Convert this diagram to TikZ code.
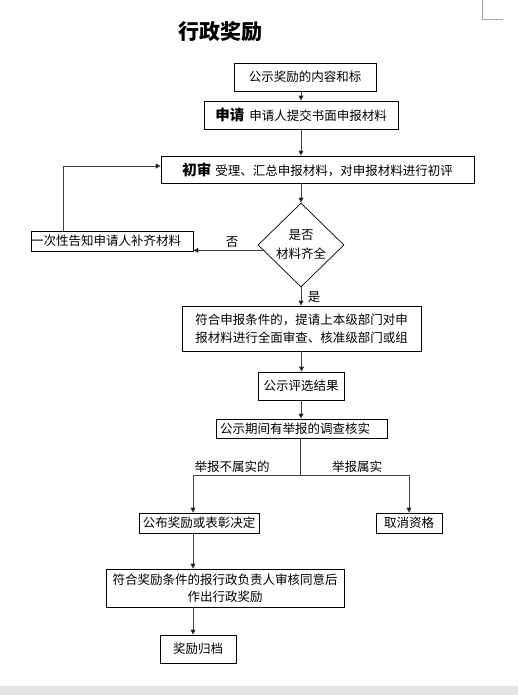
\documentclass[tikz,border=0pt]{standalone}
\usepackage{fontspec}
\setmainfont{Noto Sans CJK SC}
\usetikzlibrary{arrows.meta,shapes.geometric}
\begin{document}
\begin{tikzpicture}[x=1pt,y=-1pt,
  box/.style={draw=black, line width=0.7pt, inner sep=0pt, align=center, font=\fontsize{12.5}{18}\selectfont},
  arr/.style={draw=black!75, line width=0.8pt, -{Triangle[length=5pt,width=5pt,fill=black]}},
  ln/.style={draw=black!75, line width=0.8pt},
  lbl/.style={font=\fontsize{12.5}{14}\selectfont, inner sep=0pt}]
\useasboundingbox (0,0) rectangle (518,695);
\fill[gray!22] (0,686) rectangle (518,695);
\draw[gray!70, line width=0.6pt] (482,0) -- (482,19) -- (503,19);

\node[inner sep=0pt, font=\fontsize{21}{23}\selectfont\bfseries] (title) at (220,32) {行政奖励};

\node[box, minimum width=142, minimum height=28] (b1) at (305,77) {公示奖励的内容和标};
\node[box, minimum width=194, minimum height=28] (b2) at (301,115) {{\fontsize{14.5}{16}\selectfont\bfseries 申请}\hspace{5pt}申请人提交书面申报材料};
\node[box, minimum width=313, minimum height=27] (b3) at (317.5,169.5) {{\fontsize{14.5}{16}\selectfont\bfseries 初审}\hspace{4pt}受理、汇总申报材料，对申报材料进行初评};
\node[draw=black, line width=0.7pt, diamond, aspect=1.02, minimum width=86, minimum height=84, inner sep=0pt, align=center, font=\fontsize{12.5}{19}\selectfont] (d) at (301,245) {是否\\材料齐全};
\node[box, minimum width=162, minimum height=20, text width=162, align=left] (lb) at (112,241) {一次性告知申请人补齐材料};
\node[box, minimum width=239, minimum height=45] (b4) at (301.5,328.5) {符合申报条件的，提请上本级部门对申\\报材料进行全面审查、核准级部门或组};
\node[box, minimum width=86, minimum height=28] (b5) at (301,386) {\raisebox{-4pt}{公示评选结果}};
\node[box, minimum width=171, minimum height=19, text width=163, align=left] (b6) at (301.5,428.5) {公示期间有举报的调查核实};
\node[box, minimum width=120, minimum height=20] (b7) at (199,523) {公布奖励或表彰决定};
\node[box, minimum width=66, minimum height=20] (b8) at (409,523) {取消资格};
\node[box, minimum width=238, minimum height=38, font=\fontsize{12.5}{17}\selectfont] (b9) at (225,588) {符合奖励条件的报行政负责人审核同意后\\作出行政奖励};
\node[box, minimum width=76, minimum height=28] (b10) at (198,649) {奖励归档};

\coordinate (loop) at (63,166);
\coordinate (j) at (300,475);
\coordinate (jl) at (193,475);
\coordinate (jr) at (409,475);

\draw[arr] (b1.south -| b2.north) -- (b2.north);
\draw[arr] (b2.south) -- (b2.south |- b3.north);
\draw[arr] (b3.south -| d.north) -- (d.north);
\draw[arr] (d.188) -- (d.188 -| lb.east);
\node[lbl] (no) at (232,242) {否};
\draw[arr] (lb.north -| loop) -- (loop) -- (loop -| b3.west);
\draw[arr] (d.south) -- (d.south |- b4.north);
\node[lbl] (yes) at (314,297) {是};
\draw[arr] (b4.south) -- (b4.south |- b5.north);
\draw[arr] (b5.south) -- (b5.south |- b6.north);
\draw[ln] (b6.south -| j) -- (j);
\draw[ln] (jl) -- (jr);
\draw[arr] (jl) -- (jl |- b7.north);
\draw[arr] (jr) -- (b8.north);
\node[lbl] (n1) at (232,467) {举报不属实的};
\node[lbl] (n2) at (357,467) {举报属实};
\draw[arr] (b7.south -| jl) -- (b9.north -| jl);
\draw[arr] (b9.south -| jl) -- (b10.north -| jl);
\end{tikzpicture}
\end{document}
